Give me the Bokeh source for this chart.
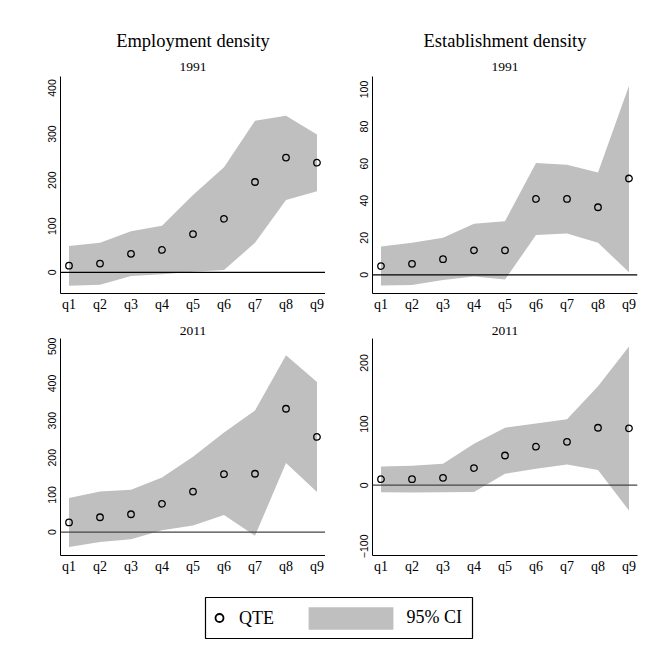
from bokeh.plotting import figure
from bokeh.models import Range1d, FixedTicker, Span, Title, Legend, LegendItem
from bokeh.layouts import column, row
from bokeh.embed import file_html
from bokeh.resources import INLINE

# ---- data ----
quantiles = ["q1", "q2", "q3", "q4", "q5", "q6", "q7", "q8", "q9"]
xpos = list(range(1, len(quantiles) + 1))

emp91_qte = [14.5, 19, 40, 48.5, 83, 116, 196, 249, 238]
emp91_hi = [57, 64, 89, 101, 168, 228, 329, 340, 299]
emp91_lo = [-29, -27, -8, -4, 1, 5, 64, 157, 176]

est91_qte = [4.8, 6, 8.5, 13.3, 13.3, 41, 41, 36.5, 52]
est91_hi = [15.3, 17.4, 20, 27.6, 29, 60.3, 59.4, 55.3, 102]
est91_lo = [-5.7, -5.4, -2.7, -0.9, -2.5, 21.5, 22.4, 17.4, 1.4]

emp11_qte = [26, 40, 48, 76, 109, 156, 157, 332, 256]
emp11_hi = [92, 109, 114, 147, 203, 268, 327, 476, 404]
emp11_lo = [-40, -27, -19, 5, 18, 46, -10, 186, 108]

est11_qte = [9.8, 9.8, 12, 28, 48.6, 63, 71, 94, 93]
est11_hi = [30.6, 32, 35, 68, 94, 101, 108, 162, 227]
est11_lo = [-11.5, -12, -11.5, -11, 18.6, 27, 34, 25, -41.5]

emp91_ticks = [0, 100, 200, 300, 400]
est91_ticks = [0, 20, 40, 60, 80, 100]
emp11_ticks = [0, 100, 200, 300, 400, 500]
est11_ticks = [-100, 0, 100, 200]

SERIF = "Liberation Serif"
SANS = "Liberation Sans"
BAND = "#bfbfbf"

FW, FH = 265, 217


def panel(qte, lo, hi, yr, yticks, subtitle, main_title, bl, br, bt, bb, zero_color):
    p = figure(frame_width=FW, frame_height=FH, output_backend="svg",
               toolbar_location=None,
               x_range=Range1d(1 - 8.5 / 31, len(quantiles) + 8.5 / 31),
               y_range=Range1d(*yr),
               min_border_left=bl, min_border_right=br,
               min_border_top=bt, min_border_bottom=bb,
               background_fill_color="white", border_fill_color="white")
    p.outline_line_color = None
    p.grid.visible = False
    p.title.align = "center"
    p.title.text_font = SERIF
    p.title.text_font_style = "normal"
    p.title.text_color = "black"
    if main_title:
        p.title.text = main_title
        p.title.text_font_size = "18.5px"
        p.title.standoff = 7
        t = Title(text=subtitle, align="center", text_font=SERIF, text_color="black",
                  text_font_style="normal", text_font_size="13.5px", standoff=12)
        p.add_layout(t, "above")
    else:
        p.title.text = subtitle
        p.title.text_font_size = "13.5px"
        p.title.standoff = 8

    p.varea(x=xpos, y1=lo, y2=hi, fill_color=BAND, fill_alpha=1.0)
    p.add_layout(Span(location=0, dimension="width", line_color=zero_color, line_width=1.2))
    p.scatter(x=xpos, y=qte, marker="circle", size=6.5, fill_color=None,
              line_color="black", line_width=1.3)

    xa = p.xaxis[0]
    xa.ticker = FixedTicker(ticks=xpos)
    xa.major_label_overrides = {i: q for i, q in zip(xpos, quantiles)}
    xa.axis_line_color = "black"
    xa.major_tick_out = 0
    xa.major_tick_in = 0
    xa.minor_tick_out = 0
    xa.minor_tick_in = 0
    xa.major_label_standoff = 3
    xa.major_label_text_font = SERIF
    xa.major_label_text_font_size = "14px"
    xa.major_label_text_color = "black"

    ya = p.yaxis[0]
    ya.ticker = FixedTicker(ticks=yticks)
    ya.axis_line_color = "black"
    ya.major_tick_out = 0
    ya.major_tick_in = 0
    ya.minor_tick_out = 0
    ya.minor_tick_in = 0
    ya.major_label_orientation = "vertical"
    ya.major_label_standoff = 4
    ya.major_label_text_font = SANS
    ya.major_label_text_font_size = "10.5px"
    ya.major_label_text_color = "black"
    return p


tl = panel(emp91_qte, emp91_lo, emp91_hi, (-46, 425), emp91_ticks, "1991",
           "Employment density", 60, 0, 76, 20, "black")
tr = panel(est91_qte, est91_lo, est91_hi, (-10, 107), est91_ticks, "1991",
           "Establishment density", 47, 6, 76, 20, "black")
bl = panel(emp11_qte, emp11_lo, emp11_hi, (-63, 521), emp11_ticks, "2011",
           None, 60, 0, 24, 26, "#444444")
br = panel(est11_qte, est11_lo, est11_hi, (-115, 240), est11_ticks, "2011",
           None, 47, 6, 24, 26, "#444444")

# ---- legend (proxy renderers, hidden, reuse one panel's values) ----
lg = figure(frame_width=267, frame_height=41, output_backend="svg",
            toolbar_location=None, x_range=Range1d(0, 1), y_range=Range1d(0, 1),
            min_border_left=205, min_border_right=171, min_border_top=16,
            min_border_bottom=4, border_fill_color="white")
lg.axis.visible = False
lg.grid.visible = False
lg.outline_line_color = "black"
lg.outline_line_width = 1.2
r_qte = lg.scatter(x=xpos, y=emp91_qte, marker="circle", size=8, fill_color=None,
                   line_color="black", line_width=1.8, visible=False)
r_ci = lg.varea(x=xpos, y1=emp91_lo, y2=emp91_hi, fill_color=BAND, visible=False)

leg1 = Legend(items=[LegendItem(label="QTE", renderers=[r_qte])],
              location="left", glyph_width=20, glyph_height=20,
              label_standoff=10, padding=0, margin=4, border_line_color=None,
              background_fill_alpha=0, label_text_font=SERIF,
              label_text_font_size="18px", label_text_color="black")
leg2 = Legend(items=[LegendItem(label="95% CI", renderers=[r_ci])],
              location="right", glyph_width=106, glyph_height=28,
              label_standoff=3, padding=0, margin=10, border_line_color=None,
              background_fill_alpha=0, label_text_font=SERIF,
              label_text_font_size="18px", label_text_color="black")
lg.add_layout(leg1, "center")
lg.add_layout(leg2, "center")

layout = column(row(tl, tr), row(bl, br), lg)

open("out.html", "w").write(file_html(layout, INLINE))
